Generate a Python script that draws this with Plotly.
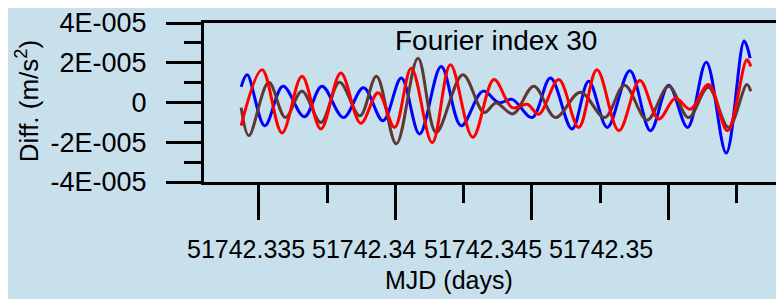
import plotly.graph_objects as go

# ---- data (values in units of 1e-5 m/s^2) ----
blue_mjd = [51742.334354, 51742.334573, 51742.335219, 51742.335887, 51742.336668, 51742.337310,
            51742.338102, 51742.338832, 51742.339551, 51742.340219, 51742.340887, 51742.341679,
            51742.342409, 51742.343212, 51742.343796, 51742.344281, 51742.345011, 51742.345682,
            51742.346471, 51742.347080, 51742.347763, 51742.348588, 51742.349343, 51742.350011,
            51742.350704, 51742.351387, 51742.352117, 51742.352774, 51742.352993]
blue_val = [0.785, 1.401, -1.168, 0.820, -0.720, 0.820, -0.755, 0.745, -0.919, 1.232, -1.580, 1.814,
            -1.168, 0.571, -0.010, 0.159, -0.755, 1.232, -1.332, 1.068, -1.252, 1.600, -1.416, 0.870,
            -1.252, 2.027, -2.544, 3.091, 2.226]

red_mjd = [51742.334354, 51742.335120, 51742.335850, 51742.336580, 51742.337274, 51742.338004,
           51742.338734, 51742.339369, 51742.339974, 51742.340584, 51742.341350, 51742.342018,
           51742.342836, 51742.343613, 51742.344281, 51742.344828, 51742.345255, 51742.345985,
           51742.346715, 51742.347383, 51742.348186, 51742.348953, 51742.349646, 51742.350255,
           51742.350803, 51742.351471, 51742.352164, 51742.352872, 51742.353018]
red_val = [-1.168, 1.650, -1.530, 1.317, -1.332, 1.481, -1.043, 0.487, -1.252, 1.729, -2.027, 1.898,
           -1.749, 1.153, -0.258, -0.089, -0.586, 1.153, -1.252, 1.650, -1.416, 1.103, -0.835, 0.209,
           -0.338, 0.904, -1.416, 2.147, 1.814]

brown_mjd = [51742.334354, 51742.334635, 51742.335365, 51742.335974, 51742.336580, 51742.337274,
             51742.337956, 51742.338704, 51742.339307, 51742.340036, 51742.340828, 51742.341496,
             51742.342471, 51742.343248, 51742.343686, 51742.344307, 51742.345073, 51742.345865,
             51742.346777, 51742.347664, 51742.348394, 51742.349223, 51742.350011, 51742.350741,
             51742.351460, 51742.352201, 51742.352872, 51742.353018]
brown_val = [-0.258, -1.665, 1.019, -0.755, 0.571, -1.004, 1.019, -0.671, 1.317, -2.077, 2.226, -1.501,
             1.401, -0.507, -0.025, -0.571, 0.820, -0.755, 0.522, -0.755, 0.870, -0.884, 0.820, -0.755,
             0.770, -1.252, 0.904, 0.571]

y_tickvals = [-4e-5, -2e-5, 0, 2e-5, 4e-5]
y_ticktext = ["-4E-005", "-2E-005", "0", "2E-005", "4E-005"]
y_minor = [-3e-5, -1e-5, 1e-5, 3e-5]
x_ticklabels = ["51742.335", "51742.34", "51742.345", "51742.35"]
x_label_pos = [0.0724, 0.2759, 0.4810, 0.6845]  # paper positions of the (shifted) tick labels

SCALE = 1e-5
BG = "rgb(200,223,236)"
FONT = "Liberation Sans, Arial, Helvetica, sans-serif"

fig = go.Figure()
for xs, vs, col in [(blue_mjd, blue_val, "rgb(0,0,255)"),
                    (brown_mjd, brown_val, "rgb(94,56,52)"),
                    (red_mjd, red_val, "rgb(255,0,0)")]:
    fig.add_trace(go.Scatter(x=xs, y=[v * SCALE for v in vs], mode="lines",
                             line=dict(color=col, width=3, shape="spline", smoothing=1.0),
                             showlegend=False, hoverinfo="skip"))

# page body has an 8px margin: figure is 8px smaller on each side so it fills the 784x299 window
fig.update_layout(
    width=776, height=291,
    margin=dict(l=196, r=0, t=13, b=117),
    paper_bgcolor=BG, plot_bgcolor=BG,
    font=dict(family=FONT, color="black"),
    xaxis=dict(range=[51742.332993, 51742.354234], showgrid=False, zeroline=False,
               showline=True, linecolor="black", linewidth=3, mirror=True,
               ticks="outside", ticklen=35, tickwidth=3, tickcolor="black",
               tick0=51742.335, dtick=0.005, showticklabels=False,
               minor=dict(ticks="outside", ticklen=18, tickwidth=3, tickcolor="black",
                          tick0=51742.335, dtick=0.0025, showgrid=False)),
    yaxis=dict(range=[-4e-5, 4e-5], showgrid=False, zeroline=False,
               showline=True, linecolor="black", linewidth=3, mirror=False,
               ticks="outside", ticklen=35, tickwidth=3, tickcolor="black",
               tickvals=y_tickvals, ticktext=y_ticktext, tickfont=dict(size=27),
               ticklabelstandoff=14, ticklabeloverflow="allow",
               minor=dict(ticks="outside", ticklen=17, tickwidth=3, tickcolor="black",
                          tickvals=y_minor, showgrid=False)),
)

annotations = []
for lab, pos in zip(x_ticklabels, x_label_pos):
    annotations.append(dict(text=lab, x=pos, y=-0.419, xref="paper", yref="paper",
                            xanchor="center", yanchor="middle", showarrow=False,
                            font=dict(size=25)))
annotations.append(dict(text="MJD (days)", x=0.4224, y=-0.615, xref="paper", yref="paper",
                        xanchor="center", yanchor="middle", showarrow=False, font=dict(size=25)))
annotations.append(dict(text="Diff. (m/s<sup>2</sup>)", x=-0.305, y=0.509, xref="paper", yref="paper",
                        xanchor="center", yanchor="middle", showarrow=False, textangle=-90,
                        font=dict(size=26)))
annotations.append(dict(text="Fourier index 30", x=0.5034, y=0.888, xref="paper", yref="paper",
                        xanchor="center", yanchor="middle", showarrow=False, font=dict(size=28)))
fig.update_layout(annotations=annotations)

fig.write_html("out.html")
